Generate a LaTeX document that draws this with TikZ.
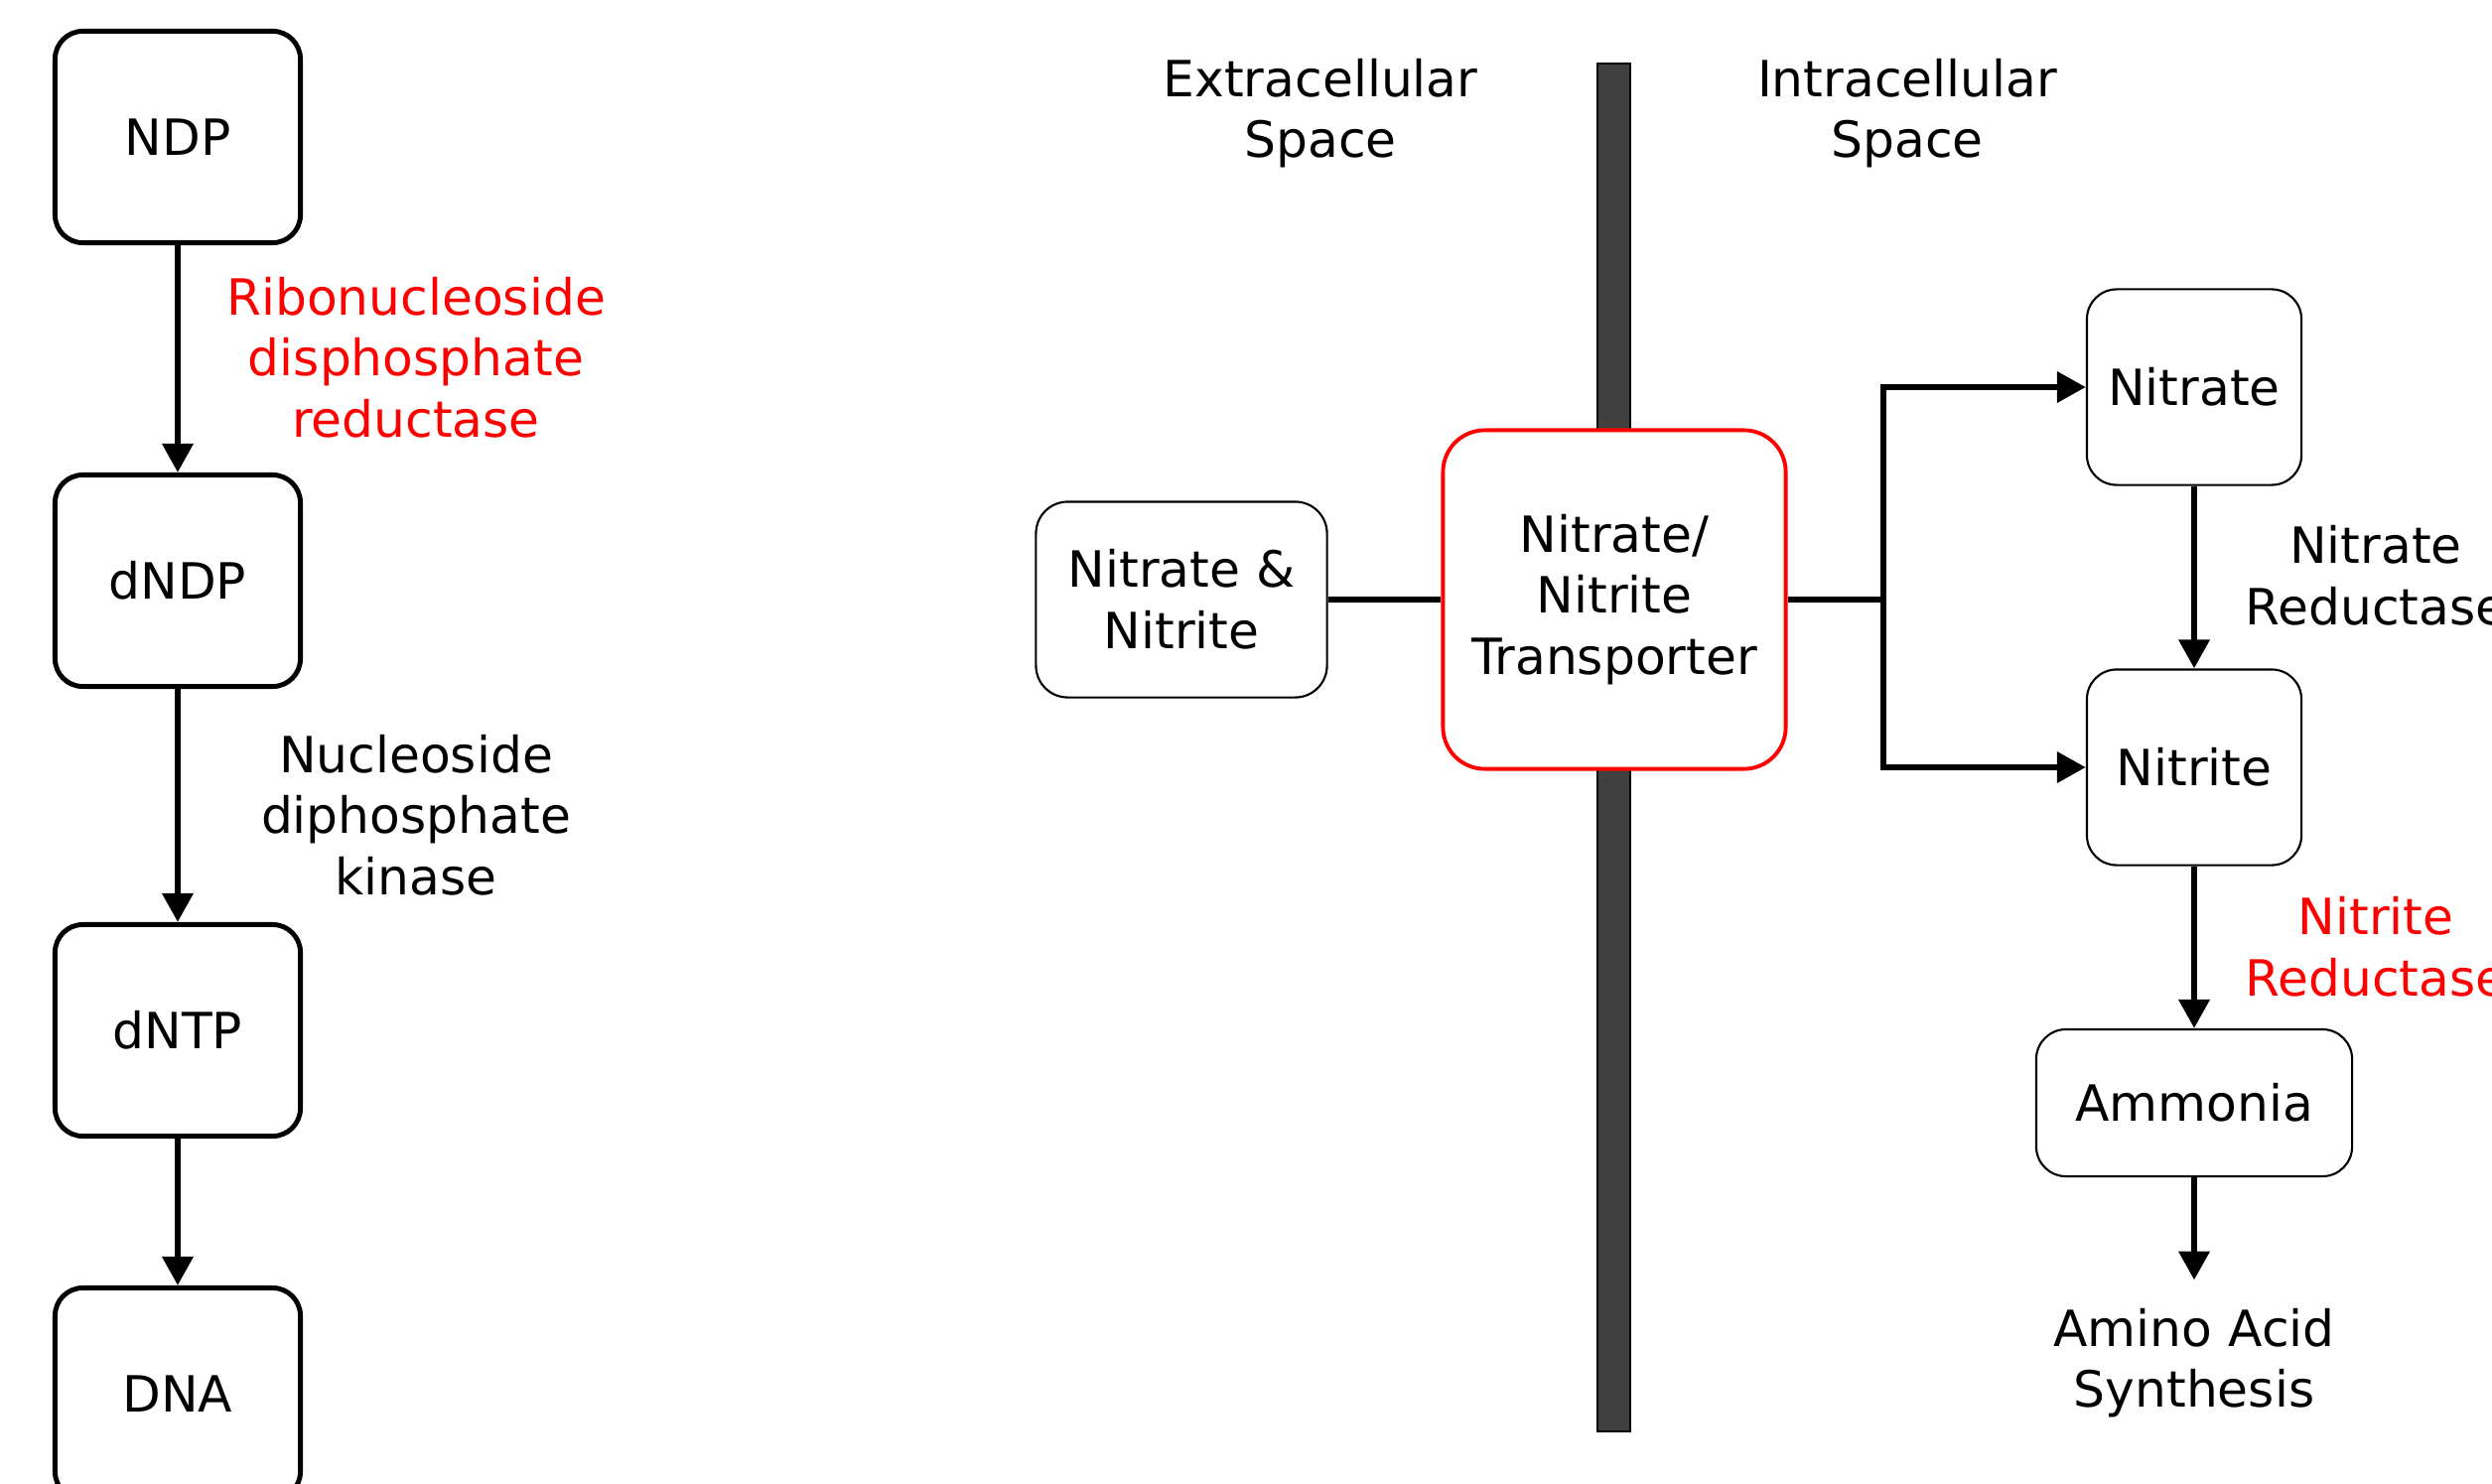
\documentclass[tikz,border=0pt]{standalone}
\usepackage{fontspec}
\setmainfont{DejaVu Sans}
\usetikzlibrary{arrows.meta}
\definecolor{membrane}{HTML}{404040}

\begin{document}
\begin{tikzpicture}[x = 0.01cm, y = -0.01cm, font = \fontsize{14.3}{17.5}\selectfont,
	line width = 1.9pt, >= {Triangle[length = 0.29cm, width = 0.3cm]},
	thinbox/.style = {draw, line width = 0.6pt, rounded corners = 0.3cm, align = center}]

\useasboundingbox (0,0) rectangle (2510,1494);

\foreach \lbl/\y[count = \i] in {NDP/138, dNDP/585, dNTP/1038, DNA/1404} {
	\node[draw, line width = 1.4pt, rounded corners = 0.28cm, minimum width = 2.47cm, minimum height = 2.13cm] (L\i) at (179, \y) {\lbl};
}
\foreach \i/\j in {1/2, 2/3, 3/4} {
	\draw[->] (L\i) -- (L\j);
}

\node[align = center, text = red] (rnr) at (419, 360) {Ribonucleoside\\disphosphate\\reductase};
\node[align = center] (ndk) at (419, 821) {Nucleoside\\diphosphate\\kinase};

\draw[fill = membrane, line width = 0.6pt] (1609,64) rectangle (1642,1442);
\node[align = center] (extra) at (1330, 114) {Extracellular\\Space};
\node[align = center] (intra) at (1921, 114) {Intracellular\\Space};

\node[thinbox, rounded corners = 0.32cm, minimum width = 2.93cm, minimum height = 1.97cm] (mix) at (1190, 604) {Nitrate \&\\Nitrite};
\node[draw = red, fill = white, line width = 1.1pt, rounded corners = 0.42cm, minimum width = 3.45cm, minimum height = 3.41cm, align = center] (trans) at (1626, 604) {Nitrate/\\Nitrite\\Transporter};
\node[thinbox, minimum width = 2.16cm, minimum height = 1.97cm] (nitrate) at (2210, 390) {Nitrate};
\node[thinbox, minimum width = 2.16cm, minimum height = 1.97cm] (nitrite) at (2210, 773) {Nitrite};
\node[thinbox, minimum width = 3.18cm, minimum height = 1.48cm] (ammonia) at (2210, 1111) {Ammonia};
\node[align = center, inner sep = 0.25cm] (synth) at (2210, 1373) {Amino Acid\\Synthesis};

\node[align = center] (nr) at (2393, 580) {Nitrate\\Reductase};
\node[align = center, text = red] (nir) at (2393, 954) {Nitrite\\Reductase};

\coordinate (split) at (1897, 604);
\draw (mix) -- (trans);
\draw (trans) -- (split);
\draw[->] (split) |- (nitrate);
\draw[->] (split) |- (nitrite);
\draw[->] (nitrate) -- (nitrite);
\draw[->] (nitrite) -- (ammonia);
\draw[->] (ammonia) -- (synth);

\end{tikzpicture}
\end{document}
